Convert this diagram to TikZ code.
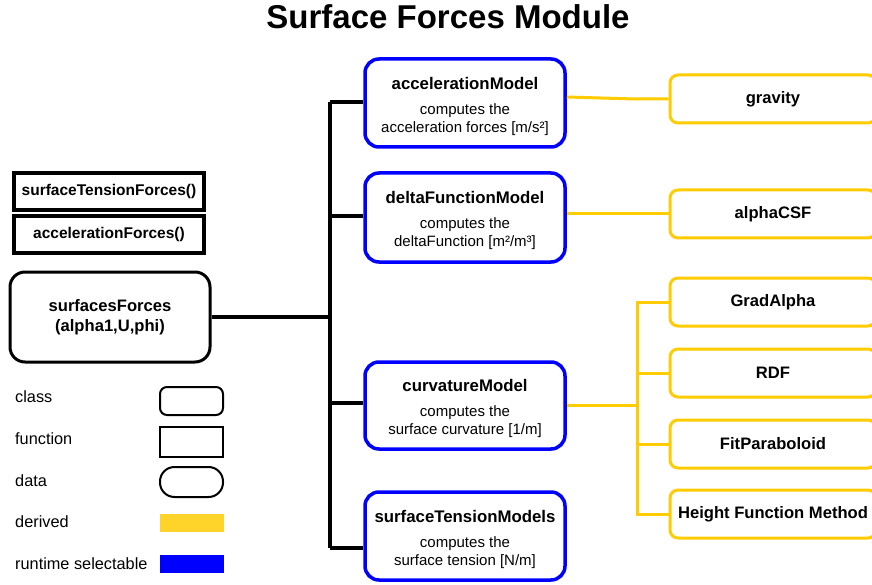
\documentclass[tikz,border=0pt]{standalone}
\usepackage{fontspec}
\setmainfont{Liberation Sans}
\definecolor{selblue}{HTML}{0000FF}
\definecolor{lineyel}{HTML}{FFCC00}
\definecolor{fillyel}{HTML}{FFD42A}
\begin{document}
\begin{tikzpicture}[x=1pt,y=-1pt,
  lbl/.style={font=\bfseries\fontsize{16.6}{20}\selectfont},
  clsbox/.style={draw=black, line width=3pt, rounded corners=15pt, minimum width=200pt, minimum height=90pt, align=center, lbl},
  fnbox/.style={draw=black, line width=4pt, minimum width=190pt, minimum height=37pt, font=\bfseries\fontsize{15.5}{18}\selectfont},
  selbox/.style={draw=selblue, line width=3.5pt, rounded corners=14pt, minimum width=200pt, minimum height=88pt, align=center, inner sep=0pt, font=\fontsize{15}{18}\selectfont},
  derbox/.style={draw=lineyel, line width=3pt, rounded corners=8pt, minimum width=206pt, minimum height=48pt, lbl},
  blk/.style={draw=black, line width=3.5pt},
  yl/.style={draw=lineyel, line width=3pt},
  legtxt/.style={anchor=west, font=\fontsize{16.3}{18}\selectfont, inner sep=0pt}
]
\useasboundingbox (0,0) rectangle (872,585);
\clip (0,0) rectangle (872,585);
\fill[white] (0,0) rectangle (872,585);

% title
\node[font=\bfseries\fontsize{33}{38}\selectfont] (title) at (448,17) {Surface Forces Module};

% functions and class
\node[fnbox] (stf) at (109,191.5) {surfaceTensionForces()};
\node[fnbox] (af) at (109,234.5) {accelerationForces()};
\node[clsbox] (sf) at (110,317) {surfacesForces\\(alpha1,U,phi)};

% runtime selectable models
\newcommand{\selcontent}[3]{\rule{0pt}{19pt}{\bfseries\fontsize{16.8}{18}\selectfont #1}\\[7pt]#2\\#3}
\node[selbox] (am) at (465,103) {\selcontent{accelerationModel}{computes the}{acceleration forces [m/s²]}};
\node[selbox, minimum height=89pt] (dfm) at (465,217.5) {\selcontent{deltaFunctionModel}{computes the}{deltaFunction [m²/m³]}};
\node[selbox, minimum height=87pt] (cm) at (465,405.5) {\selcontent{curvatureModel}{computes the}{surface curvature [1/m]}};
\node[selbox] (stm) at (465,536) {\selcontent{surfaceTensionModels}{computes the}{surface tension [N/m]}};

% derived
\node[derbox] (grav) at (773,99) {gravity};
\node[derbox] (csf) at (773,214) {alphaCSF};
\node[derbox] (grad) at (773,302) {GradAlpha};
\node[derbox] (rdf) at (773,373) {RDF};
\node[derbox] (fit) at (773,444) {FitParaboloid};
\node[derbox] (hfm) at (773,514) {Height Function Method};

% black tree
\coordinate (tt) at (330,102);
\coordinate (tb) at (330,548);
\draw[blk] (tt) -- (tb);
\draw[blk] (sf.east) -- (sf.east -| tt);
\draw[blk] (am.west |- tt) -- (tt);
\draw[blk] (dfm.west |- 0,216) -- (330,216);
\draw[blk] (cm.west |- 0,403) -- (330,403);
\draw[blk] (stm.west |- tb) -- (tb);

% yellow connectors
\draw[yl] (am.east |- 0,97) -- (635,99) -- (grav.west);
\draw[yl] (dfm.east |- csf.west) -- (csf.west);
\coordinate (yb) at (637,405);
\draw[yl] (cm.east |- yb) -- (yb);
\draw[yl] (grad.west) -| (hfm.west -| yb) -- (hfm.west);
\draw[yl] (rdf.west) -- (rdf.west -| yb);
\draw[yl] (fit.west) -- (fit.west -| yb);

% legend
\node[legtxt] (lclass) at (15,397) {class};
\node[legtxt] (lfn) at (15,439) {function};
\node[legtxt] (ldata) at (15,481) {data};
\node[legtxt] (lder) at (15,522) {derived};
\node[legtxt] (lsel) at (15,564) {runtime selectable};
\node[draw=black, line width=2pt, rounded corners=7pt, minimum width=63pt, minimum height=28pt] (gclass) at (191.5,401) {};
\node[draw=black, line width=2pt, minimum width=63pt, minimum height=30pt] (gfn) at (191.5,442) {};
\node[draw=black, line width=2pt, rounded corners=14.5pt, minimum width=63pt, minimum height=30pt] (gdata) at (191.5,482) {};
\node[fill=fillyel, minimum width=64pt, minimum height=18pt, inner sep=0pt] (gder) at (191.5,523) {};
\node[fill=selblue, minimum width=64pt, minimum height=18pt, inner sep=0pt] (gsel) at (191.5,564) {};
\end{tikzpicture}
\end{document}
